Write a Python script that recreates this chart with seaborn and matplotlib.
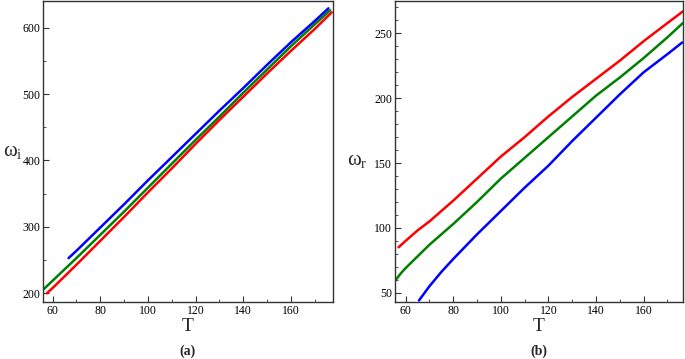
import numpy as np
import pandas as pd
import seaborn as sns
import matplotlib.pyplot as plt

# values read off the reference
# panel (a): omega_i vs T
t_blue_a = [66.7, 70, 80, 90, 100, 110, 120, 130, 140, 150, 160, 170, 175.7]
w_blue_a = [253, 264, 299, 334, 370, 405, 440, 475, 509, 544, 578, 610, 629]
t_green_a = [56.2, 60, 70, 80, 90, 100, 110, 120, 130, 140, 150, 160, 170, 176.4]
w_green_a = [206, 219, 253, 288, 323, 359, 395, 431, 466, 502, 537, 572, 605, 626]
t_red_a = [57.6, 60, 70, 80, 90, 100, 110, 120, 130, 140, 150, 160, 170, 177.1]
w_red_a = [200, 208, 243, 279, 315, 352, 388, 425, 461, 496, 531, 565, 598, 623]

# panel (b): omega_r vs T
t_red_b = [57, 60, 65, 70, 75, 80, 90, 100, 110, 120, 130, 140, 150, 160, 170, 176.5]
w_red_b = [85, 90, 98, 105, 113, 121, 138, 155, 170, 186, 201, 215, 229, 244, 258, 267]
t_green_b = [55.5, 58, 60, 65, 70, 75, 80, 90, 100, 110, 120, 130, 140, 150, 160, 170, 176.5]
w_green_b = [59, 65, 69, 78, 87, 95, 103, 120, 138, 154, 170, 186, 202, 216, 231, 247, 258]
t_blue_b = [65.6, 70, 75, 80, 90, 100, 110, 120, 130, 140, 150, 160, 170, 176.2]
w_blue_b = [44, 55, 66, 76, 95, 113, 131, 148, 167, 185, 203, 220, 234, 243]

sns.set_style("ticks")
plt.rcParams['font.family'] = ['Liberation Serif', 'DejaVu Serif']
plt.rcParams['mathtext.fontset'] = 'custom'
plt.rcParams['mathtext.rm'] = 'Liberation Serif'
plt.rcParams['mathtext.it'] = 'Liberation Serif:italic'

fig = plt.figure(figsize=(6.85, 3.59), dpi=100)
ax1 = fig.add_axes([0.0628, 0.1588, 0.4229, 0.8384])
ax2 = fig.add_axes([0.5766, 0.1588, 0.4200, 0.8384])

lw = 1.8
sns.lineplot(x=t_green_a, y=w_green_a, color='#008000', lw=lw, ax=ax1)
sns.lineplot(x=t_red_a, y=w_red_a, color='#ff0000', lw=lw, ax=ax1)
sns.lineplot(x=t_blue_a, y=w_blue_a, color='#0000ff', lw=lw, ax=ax1)

sns.lineplot(x=t_red_b, y=w_red_b, color='#ff0000', lw=lw, ax=ax2)
sns.lineplot(x=t_green_b, y=w_green_b, color='#008000', lw=lw, ax=ax2)
sns.lineplot(x=t_blue_b, y=w_blue_b, color='#0000ff', lw=lw, ax=ax2)

ax1.set_xlim(56.0, 177.5)
ax1.set_ylim(187, 640)
ax2.set_xlim(55.5, 176.4)
ax2.set_ylim(42.8, 275)

ax1.set_xticks([60, 80, 100, 120, 140, 160])
ax1.set_xticks(np.arange(70, 180, 20), minor=True)
ax1.set_yticks([200, 300, 400, 500, 600])
ax1.set_yticks([250, 350, 450, 550], minor=True)

ax2.set_xticks([60, 80, 100, 120, 140, 160])
ax2.set_xticks(np.arange(70, 180, 20), minor=True)
ax2.set_yticks([50, 100, 150, 200, 250])
ax2.set_yticks([v for v in range(50, 275, 10) if v % 50 != 0], minor=True)

for ax, lab, sub in [(ax1, r'$\mathrm{ω_i}$', '(a)'), (ax2, r'$\mathrm{ω_r}$', '(b)')]:
    for s in ax.spines.values():
        s.set_color('#333333')
        s.set_linewidth(1.0)
    ax.tick_params(which='major', direction='in', length=4, width=0.8,
                   labelsize=8.5, colors='#333333', labelcolor='black', pad=2)
    ax.tick_params(which='minor', direction='in', length=2, width=0.6, colors='#333333')
    ax.set_xlabel('T', fontsize=14, labelpad=1)
    ax.set_ylabel(lab, fontsize=15, rotation=0)
    ax.text(0.5, -0.165, sub, transform=ax.transAxes, ha='center', va='center',
            fontsize=10, fontweight='bold')

ax1.yaxis.set_label_coords(-0.105, 0.47)
ax2.yaxis.set_label_coords(-0.13, 0.44)

fig.savefig('out.png', dpi=100)
